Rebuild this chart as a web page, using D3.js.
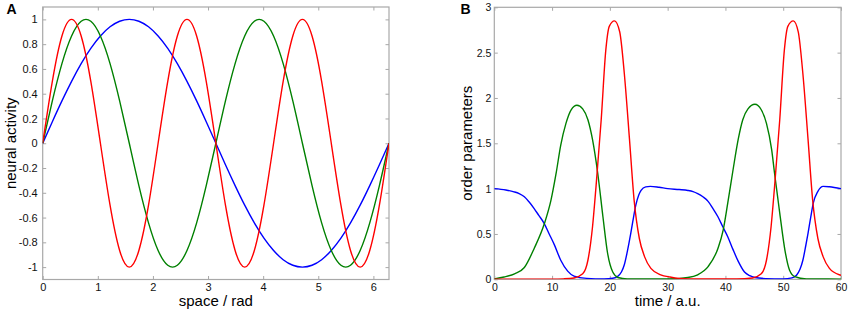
<!DOCTYPE html>
<html>
<head>
<meta charset="utf-8">
<script src="https://cdn.jsdelivr.net/npm/d3@7"></script>
<style>
  html, body { margin: 0; padding: 0; background: #fff; }
  svg { display: block; font-family: "Liberation Sans", Arial, Helvetica, sans-serif; }
</style>
</head>
<body>
<svg id="chart" width="850" height="315"></svg>
<script>
// ---------- Panel A data (space / rad) ----------
const spaceX = [0,0.175,0.349,0.524,0.698,0.873,1.047,1.222,1.396,1.571,1.745,1.920,2.094,2.269,2.443,2.618,2.793,2.967,3.142,3.316,3.491,3.665,3.840,4.014,4.189,4.363,4.538,4.712,4.887,5.061,5.236,5.411,5.585,5.760,5.934,6.109,6.283];
const activityBlue = [0,0.174,0.342,0.5,0.643,0.766,0.866,0.94,0.985,1,0.985,0.94,0.866,0.766,0.643,0.5,0.342,0.174,0,-0.174,-0.342,-0.5,-0.643,-0.766,-0.866,-0.94,-0.985,-1,-0.985,-0.94,-0.866,-0.766,-0.643,-0.5,-0.342,-0.174,0];
const activityGreen = [0,0.342,0.643,0.866,0.985,0.985,0.866,0.643,0.342,0,-0.342,-0.643,-0.866,-0.985,-0.985,-0.866,-0.643,-0.342,0,0.342,0.643,0.866,0.985,0.985,0.866,0.643,0.342,0,-0.342,-0.643,-0.866,-0.985,-0.985,-0.866,-0.643,-0.342,0];
const activityRed = [0,0.5,0.866,1,0.866,0.5,0,-0.5,-0.866,-1,-0.866,-0.5,0,0.5,0.866,1,0.866,0.5,0,-0.5,-0.866,-1,-0.866,-0.5,0,0.5,0.866,1,0.866,0.5,0,-0.5,-0.866,-1,-0.866,-0.5,0];
const ticksAX = [0,1,2,3,4,5,6];
const ticksAY = [-1,-0.8,-0.6,-0.4,-0.2,0,0.2,0.4,0.6,0.8,1];

// ---------- Panel B data (time / a.u.) ----------
const timeBlue = [0,2,3.4,4.3,5.2,6,6.9,7.7,8.6,9.5,10.4,11.5,12.7,13.8,16,19,20.5,21.3,22,22.5,23,23.6,24,24.5,25,25.4,26.2,27,28.5,30,32,33.5,34.4,35.2,36.1,37,37.8,38.7,39.5,40.4,41.3,42.2,43.3,44.2,45.1,47,50,51.5,52.3,52.9,53.4,53.9,54.3,54.8,55.2,56,56.9,58,60];
const orderBlue = [1.0,0.985,0.965,0.945,0.91,0.855,0.78,0.705,0.62,0.5,0.38,0.21,0.09,0.035,0.01,0.004,0.012,0.03,0.08,0.16,0.3,0.5,0.65,0.82,0.93,0.98,1.02,1.025,1.015,1.0,0.99,0.98,0.967,0.945,0.91,0.86,0.785,0.69,0.585,0.47,0.33,0.2,0.08,0.04,0.02,0.008,0.004,0.015,0.045,0.11,0.21,0.37,0.51,0.7,0.84,0.97,1.025,1.02,1.0];
const timeGreen = [0,1.7,3.5,5.2,6.9,8.7,9.8,10.7,11.5,12.4,13.3,14.3,15.3,16.2,17,17.9,18.8,19.6,20.5,21.4,23,30,33.5,35.2,37,38.7,39.6,40.4,41.3,42.2,43,43.9,45.1,46.2,47.1,48,48.5,49.4,50.3,51.1,52,54,60];
const orderGreen = [0.005,0.025,0.06,0.13,0.34,0.62,0.87,1.17,1.48,1.72,1.87,1.92,1.88,1.76,1.54,1.17,0.69,0.29,0.08,0.02,0.004,0.003,0.02,0.05,0.14,0.34,0.54,0.84,1.2,1.54,1.76,1.88,1.93,1.87,1.72,1.43,1.17,0.73,0.32,0.1,0.03,0.005,0.002];
const timeRed = [0,10,12,13.8,15.3,16.2,17,17.6,18.5,19.3,19.9,20.8,21.7,22.5,23.4,24.2,25.1,26,27.1,28.8,30.4,32,35,42,44.7,46.2,47.1,47.9,48.5,49.4,50.2,50.8,51.75,52.6,53.4,54.3,55.1,56,56.9,58,59.7,60];
const orderRed = [0.002,0.002,0.005,0.015,0.06,0.21,0.58,1.02,1.76,2.53,2.79,2.85,2.73,2.27,1.54,0.87,0.45,0.25,0.12,0.05,0.025,0.01,0.003,0.003,0.015,0.06,0.21,0.58,1.02,1.76,2.53,2.79,2.85,2.73,2.27,1.54,0.87,0.45,0.25,0.12,0.05,0.045];
const ticksBX = [0,10,20,30,40,50,60];
const ticksBY = [0,0.5,1,1.5,2,2.5,3];

const COLORS = { blue: "#0000ff", green: "#008000", red: "#ff0000" };
const FRAME = "#a8a8a8";

const svg = d3.select("#chart");

function zip(xs, ys) { return xs.map((x, i) => [x, ys[i]]); }

function panel(opts) {
  const { id, left, right, top, bottom, xDomain, yDomain, xTicks, yTicks, xFmt, yFmt,
          series, curve, xLabel, yLabel, letter, letterX, yLabelX, tickFont, yTickGap } = opts;
  const x = d3.scaleLinear().domain(xDomain).range([left, right]);
  const y = d3.scaleLinear().domain(yDomain).range([bottom, top]);
  const g = svg.append("g");

  g.append("clipPath").attr("id", "clip" + id)
    .append("rect").attr("x", left).attr("y", top).attr("width", right - left).attr("height", bottom - top);

  const tl = 3.5;
  const ax = d3.axisBottom(x).tickValues(xTicks).tickSize(-tl).tickPadding(4).tickFormat(xFmt);
  const gb = g.append("g").attr("transform", `translate(0,${bottom})`).call(ax);
  const gt = g.append("g").attr("transform", `translate(0,${top})`)
    .call(d3.axisTop(x).tickValues(xTicks).tickSize(-tl).tickFormat(""));
  const ay = d3.axisLeft(y).tickValues(yTicks).tickSize(-tl).tickPadding(yTickGap).tickFormat(yFmt);
  const gl = g.append("g").attr("transform", `translate(${left},0)`).call(ay);
  const gr = g.append("g").attr("transform", `translate(${right},0)`)
    .call(d3.axisRight(y).tickValues(yTicks).tickSize(-tl).tickFormat(""));

  [gb, gt, gl, gr].forEach(a => {
    a.select(".domain").remove();
    a.selectAll(".tick line").attr("stroke", FRAME).attr("stroke-width", 1);
    a.selectAll("text").attr("fill", "#111").style("font-size", tickFont + "px")
      .style("font-family", '"Liberation Sans", Arial, sans-serif');
  });

  g.append("rect").attr("x", left).attr("y", top).attr("width", right - left).attr("height", bottom - top)
    .attr("fill", "none").attr("stroke", FRAME).attr("stroke-width", 1.2);

  const line = d3.line().x(d => x(d[0])).y(d => y(d[1])).curve(curve);
  const plot = g.append("g").attr("clip-path", `url(#clip${id})`);
  series.forEach(s => {
    plot.append("path").attr("d", line(s.data)).attr("fill", "none")
      .attr("stroke", s.color).attr("stroke-width", 1.4).attr("stroke-linejoin", "round");
  });

  g.append("text").attr("x", (left + right) / 2).attr("y", 306).attr("text-anchor", "middle")
    .style("font-size", "15px").attr("fill", "#000").text(xLabel);
  g.append("text").attr("transform", `translate(${yLabelX},${(top + bottom) / 2}) rotate(-90)`)
    .attr("text-anchor", "middle").style("font-size", "15px").attr("fill", "#000").text(yLabel);
  g.append("text").attr("x", letterX).attr("y", 14).style("font-size", "14px")
    .style("font-weight", "bold").attr("fill", "#000").text(letter);
}

panel({
  id: "A", left: 42.7, right: 389, top: 7, bottom: 279.5,
  xDomain: [0, 6.2832], yDomain: [-1.1, 1.1], xTicks: ticksAX, yTicks: ticksAY,
  xFmt: d3.format("d"), yFmt: d => (d === 0 ? "0" : String(+d.toFixed(1))),
  series: [
    { color: COLORS.blue, data: zip(spaceX, activityBlue) },
    { color: COLORS.green, data: zip(spaceX, activityGreen) },
    { color: COLORS.red, data: zip(spaceX, activityRed) }
  ],
  curve: d3.curveNatural, xLabel: "space / rad", yLabel: "neural activity",
  letter: "A", letterX: 6.5, yLabelX: 15.5, tickFont: 11, yTickGap: 5
});

panel({
  id: "B", left: 494.3, right: 841, top: 7.3, bottom: 279.3,
  xDomain: [0, 60], yDomain: [0, 3], xTicks: ticksBX, yTicks: ticksBY,
  xFmt: d3.format("d"), yFmt: d => String(d),
  series: [
    { color: COLORS.blue, data: zip(timeBlue, orderBlue) },
    { color: COLORS.green, data: zip(timeGreen, orderGreen) },
    { color: COLORS.red, data: zip(timeRed, orderRed) }
  ],
  curve: d3.curveMonotoneX, xLabel: "time / a.u.", yLabel: "order parameters",
  letter: "B", letterX: 460.5, yLabelX: 472, tickFont: 10.5, yTickGap: 3
});
</script>
</body>
</html>
